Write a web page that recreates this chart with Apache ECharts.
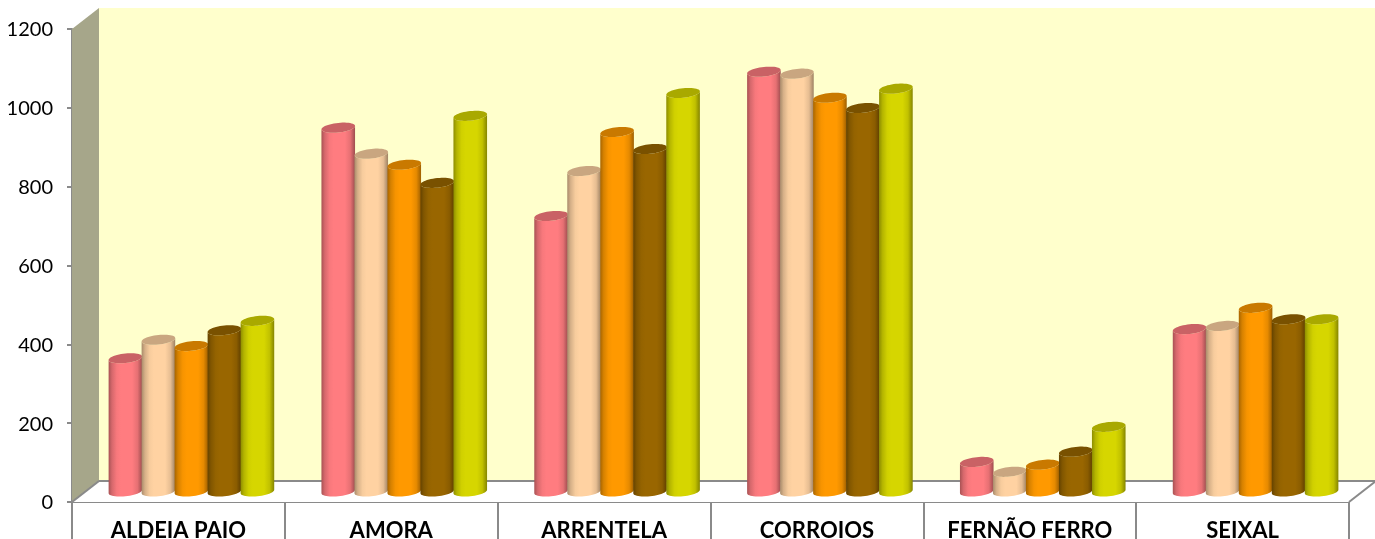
<!DOCTYPE html>
<html><head><meta charset="utf-8">
<style>html,body{margin:0;padding:0;background:#fff}#c{width:1375px;height:539px}</style>
<script src="https://cdn.jsdelivr.net/npm/echarts@6/dist/echarts.min.js"></script></head>
<body><div id="c"></div>
<script>
const categories = ['ALDEIA PAIO','AMORA','ARRENTELA','CORROIOS','FERNÃO FERRO','SEIXAL'];
const seriesA = [338, 923, 699, 1065, 75, 412];
const seriesB = [385, 857, 813, 1060, 50, 420];
const seriesC = [369, 829, 912, 999, 68, 466];
const seriesD = [409, 783, 869, 973, 101, 437];
const seriesE = [433, 953, 1011, 1022, 164, 437];
const seriesValues = [seriesA, seriesB, seriesC, seriesD, seriesE];
const colors = ['#FF7C80','#FFD2A2','#FF9900','#996600','#D6D600'];
const yTicks = [0,200,400,600,800,1000,1200];

const DX = 27, DY = 21;   // depth of the box
const BW = 33.6, B = 4.8, TILT = 1.7, SHIFT = 13;
const PITCH = 33;

function shade(hex, f){
  const n = parseInt(hex.slice(1),16);
  const c = [n>>16&255, n>>8&255, n&255].map(v=>Math.round(v*f));
  return 'rgb('+c.join(',')+')';
}
function arc(cx, cy, from, to, n){
  const a = BW/2, pts = [];
  for(let i=0;i<=n;i++){
    const t = from + (to-from)*i/n;
    pts.push([cx + a*Math.cos(t), cy + B*Math.sin(t) - TILT*Math.cos(t)]);
  }
  return pts;
}
function cylinder(si){
  return function(params, api){
    const cat = api.value(0), v = api.value(1);
    const base = api.coord([cat, 0]), top = api.coord([cat, v]);
    const cx = base[0] + SHIFT + (si-2)*PITCH;
    const yb = base[1] - DY/2, yt = top[1] - DY/2;
    const col = colors[si];
    const body = arc(cx, yb, 0, Math.PI, 24).concat(arc(cx, yt, Math.PI, 0, 24));
    const grad = new echarts.graphic.LinearGradient(0,0,1,0,[
      {offset:0, color:shade(col,.66)},{offset:.1, color:shade(col,.84)},{offset:.24, color:shade(col,.97)},
      {offset:.36, color:col},{offset:.7, color:col},
      {offset:.86, color:shade(col,.9)},{offset:1, color:shade(col,.62)}]);
    return {type:'group', children:[
      {type:'polygon', shape:{points:body}, style:{fill:grad}},
      {type:'polygon', shape:{points:arc(cx, yt, 0, Math.PI*2, 48)}, style:{fill:shade(col,.79)}}
    ]};
  };
}
function box(params, api){
  const o0 = api.coord([0,0]), oT = api.coord([0,1200]);
  const cs = params.coordSys;
  const x0 = cs.x, x1 = cs.x + cs.width, y0 = o0[1], yT = oT[1];
  const line = {stroke:'#8a8a8a', lineWidth:2, fill:null};
  return {type:'group', children:[
    {type:'rect', shape:{x:x0+DX, y:yT-DY, width:x1-x0, height:y0-yT}, style:{fill:'#FFFFCC'}},
    {type:'polygon', shape:{points:[[x0,yT],[x0+DX,yT-DY],[x0+DX,y0-DY],[x0,y0]]}, style:{fill:'#A6A68A'}},
    {type:'polygon', shape:{points:[[x0,y0],[x0+DX,y0-DY],[x1+DX,y0-DY],[x1,y0]]}, style:{fill:'#FFFFFF'}},
    {type:'line', shape:{x1:x0+DX, y1:y0-DY, x2:x1+DX, y2:y0-DY}, style:line},
    {type:'line', shape:{x1:x0, y1:y0, x2:x0+DX, y2:y0-DY}, style:line},
    {type:'line', shape:{x1:x1, y1:y0, x2:x1+DX, y2:y0-DY}, style:line}
  ]};
}
const chart = echarts.init(document.getElementById('c'), null, {renderer:'canvas'});
const font = 'Lato, "Open Sans", sans-serif';
chart.setOption({
  animation:false,
  grid:{left:72, right:26, top:29, bottom:37, outerBoundsMode:'none'},
  xAxis:{type:'category', data:categories, boundaryGap:true,
    axisLine:{lineStyle:{color:'#8a8a8a', width:2}},
    axisTick:{show:true, length:37, alignWithLabel:false, interval:0, lineStyle:{color:'#8a8a8a', width:2}},
    axisLabel:{color:'#000', fontFamily:font, fontWeight:'bold', fontSize:22, margin:18, interval:0}},
  yAxis:{type:'value', min:yTicks[0], max:yTicks[yTicks.length-1], interval:200,
    axisLine:{show:true, lineStyle:{color:'#8a8a8a', width:2}},
    axisTick:{show:true, length:5, lineStyle:{color:'#8a8a8a', width:2}},
    splitLine:{show:false},
    axisLabel:{color:'#000', fontFamily:font, fontSize:20, margin:19, verticalAlign:'top', lineHeight:24, padding:[-11,0,0,0], formatter:v=>String(v)}},
  series:[
    {type:'custom', z:1, clip:false, silent:true, renderItem:box, data:[[0,0]], encode:{x:0,y:1}}
  ].concat(seriesValues.map((vals,si)=>({
    type:'custom', z:2+si, clip:false, renderItem:cylinder(si),
    data:vals.map((v,i)=>[i,v]), encode:{x:0,y:1}
  })))
});
</script></body></html>
